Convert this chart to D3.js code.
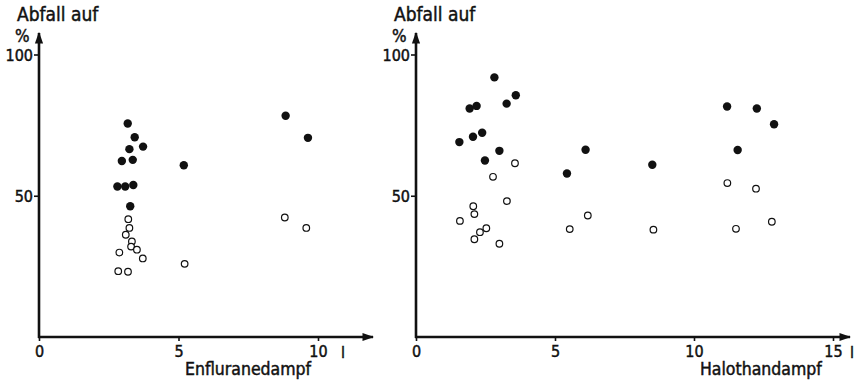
<!DOCTYPE html>
<html><head><meta charset="utf-8">
<script src="https://cdn.jsdelivr.net/npm/d3@7"></script>
<style>
html,body{margin:0;padding:0;background:#fff;}
text{font-family:"DejaVu Sans Condensed","DejaVu Sans",sans-serif;fill:#111;stroke:#111;stroke-width:0.45px;}
</style></head><body>
<svg id="c" width="857" height="388"></svg>
<script>
// ---- data ----
const yTicks = [50, 100];
const enfXTicks = [0, 5, 10];
const haloXTicks = [0, 5, 10, 15];
// Enflurane panel (x in litres, y in % drop)
const enfFilledX = [3.18, 3.43, 3.24, 3.73, 2.97, 3.36, 2.81, 3.09, 3.38, 3.27, 5.19, 8.84, 9.64];
const enfFilledY = [75.6, 70.7, 66.5, 67.4, 62.3, 62.7, 53.3, 53.3, 53.8, 46.3, 60.8, 78.3, 70.5];
const enfOpenX = [3.20, 3.24, 3.11, 3.33, 3.30, 3.51, 2.88, 3.72, 2.84, 3.19, 5.22, 8.81, 9.58];
const enfOpenY = [41.7, 38.6, 36.2, 33.8, 32.0, 30.9, 29.9, 27.8, 23.3, 23.1, 25.9, 42.3, 38.6];
// Halothane panel
const haloFilledX = [2.82, 1.93, 2.18, 3.26, 3.59, 1.56, 2.05, 2.38, 3.00, 2.48, 6.10, 5.43, 8.50, 11.19, 12.26, 12.88, 11.57];
const haloFilledY = [91.9, 80.9, 81.8, 82.6, 85.6, 69.0, 70.9, 72.3, 65.9, 62.5, 66.3, 57.9, 61.0, 81.6, 80.9, 75.3, 66.2];
const haloOpenX = [3.56, 2.77, 3.27, 2.06, 2.10, 1.58, 2.53, 2.30, 2.10, 3.00, 6.18, 5.53, 11.20, 12.23, 12.80, 11.51, 8.54];
const haloOpenY = [61.5, 56.7, 48.1, 46.3, 43.5, 41.1, 38.5, 37.1, 34.6, 33.0, 43.0, 38.2, 54.5, 52.5, 40.8, 38.3, 38.0];

const FONT = "'DejaVu Sans Condensed','DejaVu Sans',sans-serif";
const svg = d3.select("#c");
const y = d3.scaleLinear().domain([0, 100]).range([337, 54.5]);

const defs = svg.append("defs");
defs.append("marker").attr("id","arr").attr("viewBox","0 0 10 10").attr("refX",9).attr("refY",5)
  .attr("markerWidth",4.5).attr("markerHeight",4.5).attr("markerUnits","strokeWidth").attr("orient","auto")
  .append("path").attr("d","M0,1.5 L10,5 L0,8.5 Z").attr("fill","#111");

function panel(cfg){
  const x = d3.scaleLinear().domain(cfg.domain).range(cfg.range);
  const g = svg.append("g");
  const x0 = x(0), y0 = y(0);
  // axes lines with arrows
  g.append("line").attr("x1",x0).attr("y1",y0+1).attr("x2",x0).attr("y2",33)
    .attr("stroke","#111").attr("stroke-width",2.6).attr("marker-end","url(#arr)");
  g.append("line").attr("x1",x0-1).attr("y1",y0).attr("x2",cfg.xEnd).attr("y2",y0)
    .attr("stroke","#111").attr("stroke-width",2.6).attr("marker-end","url(#arr)");
  // y axis ticks
  const ya = d3.axisLeft(y).tickValues(yTicks).tickSize(5).tickPadding(1).tickFormat(d3.format("d"));
  const gy = g.append("g").attr("transform",`translate(${x0},0)`).call(ya);
  gy.select(".domain").remove();
  gy.selectAll(".tick line").attr("stroke","#111").attr("stroke-width",1.6);
  gy.selectAll(".tick text").attr("font-size",16).attr("fill","#111")
    .attr("font-family",FONT).attr("dy","0.36em");
  // x axis ticks
  const xa = d3.axisBottom(x).tickValues(cfg.xTicks).tickSize(4).tickPadding(5).tickFormat(d3.format("d"));
  const gx = g.append("g").attr("transform",`translate(0,${y0})`).call(xa);
  gx.select(".domain").remove();
  gx.selectAll(".tick line").attr("stroke","#111").attr("stroke-width",1.6);
  gx.selectAll(".tick text").attr("font-size",16).attr("fill","#111")
    .attr("font-family",FONT);
  // unit "l"
  g.append("text").attr("x",cfg.unitX).attr("y",y0+21).attr("font-size",16).text("l");
  // labels
  g.append("text").attr("x",x0-22).attr("y",21).attr("font-size",19).text("Abfall auf");
  g.append("text").attr("x",x0-24).attr("y",42).attr("font-size",17).text("%");
  g.append("text").attr("x",cfg.titleX).attr("y",375).attr("font-size",17.5).text(cfg.title);
  // points
  g.selectAll("circle.o").data(d3.range(cfg.ox.length)).join("circle").attr("class","o")
    .attr("cx",i=>x(cfg.ox[i])).attr("cy",i=>y(cfg.oy[i])).attr("r",3.3)
    .attr("fill","#fff").attr("stroke","#111").attr("stroke-width",1.2);
  g.selectAll("circle.f").data(d3.range(cfg.fx.length)).join("circle").attr("class","f")
    .attr("cx",i=>x(cfg.fx[i])).attr("cy",i=>y(cfg.fy[i])).attr("r",4.2)
    .attr("fill","#111");
}

panel({domain:[0,10], range:[39,318], xEnd:373, xTicks:enfXTicks, unitX:341,
  title:"Enfluranedampf", titleX:185,
  fx:enfFilledX, fy:enfFilledY, ox:enfOpenX, oy:enfOpenY});
panel({domain:[0,15], range:[416,833], xEnd:850, xTicks:haloXTicks, unitX:850,
  title:"Halothandampf", titleX:700,
  fx:haloFilledX, fy:haloFilledY, ox:haloOpenX, oy:haloOpenY});
</script></body></html>
